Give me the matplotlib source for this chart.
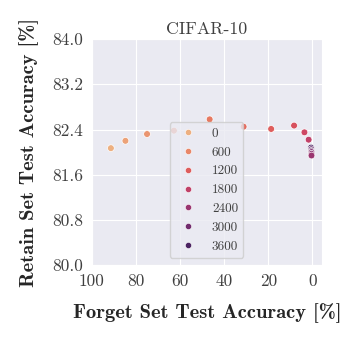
import matplotlib
matplotlib.use("Agg")
import matplotlib.pyplot as plt
import seaborn as sns
import numpy as np
from matplotlib.lines import Line2D

forget_acc = [91.4, 84.8, 75.0, 62.8, 46.6, 31.2, 18.7, 8.3, 3.6, 1.7,
              0.6, 0.5, 0.5, 0.4, 0.4, 0.4]
retain_acc = [82.07, 82.20, 82.32, 82.38, 82.58, 82.45, 82.41, 82.47, 82.35, 82.22,
              82.08, 82.05, 82.02, 82.00, 81.97, 81.94]
steps = [0, 200, 400, 600, 800, 1000, 1200, 1400, 1600, 1800,
         3600, 3200, 3000, 2800, 2600, 2400]
legend_steps = [0, 600, 1200, 1800, 2400, 3000, 3600]
x_ticks = [100, 80, 60, 40, 20, 0]
y_ticks = [80.0, 80.8, 81.6, 82.4, 83.2, 84.0]

sns.set_style("darkgrid")
plt.rcParams["font.family"] = "serif"
plt.rcParams["font.serif"] = ["cmr10"]
plt.rcParams["axes.formatter.use_mathtext"] = True
plt.rcParams["axes.unicode_minus"] = False

fig = plt.figure(figsize=(3.43, 3.43), dpi=100)
ax = fig.add_axes([0.268, 0.227, 0.671, 0.659])

cmap = sns.color_palette("flare", as_cmap=True)
norm = plt.Normalize(min(steps), max(steps))
ax.scatter(forget_acc, retain_acc, c=steps, cmap=cmap, norm=norm,
           s=24, edgecolors="white", linewidths=0.5, zorder=3)

ax.set_xlim(100, -4.4)
ax.set_ylim(80, 84)
ax.set_xticks(x_ticks)
ax.set_xticklabels([str(t) for t in x_ticks])
ax.set_yticks(y_ticks)
ax.set_yticklabels([f"{t:.1f}" for t in y_ticks])
ax.tick_params(labelsize=12.5, pad=3, labelcolor="#404040")

ax.set_xlabel("Forget Set Test Accuracy [%]", fontfamily="cmb10", fontsize=14.8, labelpad=10)
ax.set_ylabel("Retain Set Test Accuracy [%]", fontfamily="cmb10", fontsize=14.8, labelpad=9)
ax.set_title("CIFAR-10", fontsize=12.8, pad=4, color="#404040")

handles = [Line2D([], [], marker="o", linestyle="", markersize=4.5,
                  markerfacecolor=cmap(norm(v)), markeredgecolor="white",
                  markeredgewidth=0.4) for v in legend_steps]
leg = ax.legend(handles, [str(v) for v in legend_steps], loc="center",
                bbox_to_anchor=(0.498, 0.332), fontsize=9.5, frameon=True)
leg.get_frame().set_facecolor("#EAEAF2")
leg.get_frame().set_edgecolor("#cccccc")
leg.get_frame().set_alpha(0.8)
for t in leg.get_texts():
    t.set_color("#404040")

fig.savefig("out.png", dpi=100)
